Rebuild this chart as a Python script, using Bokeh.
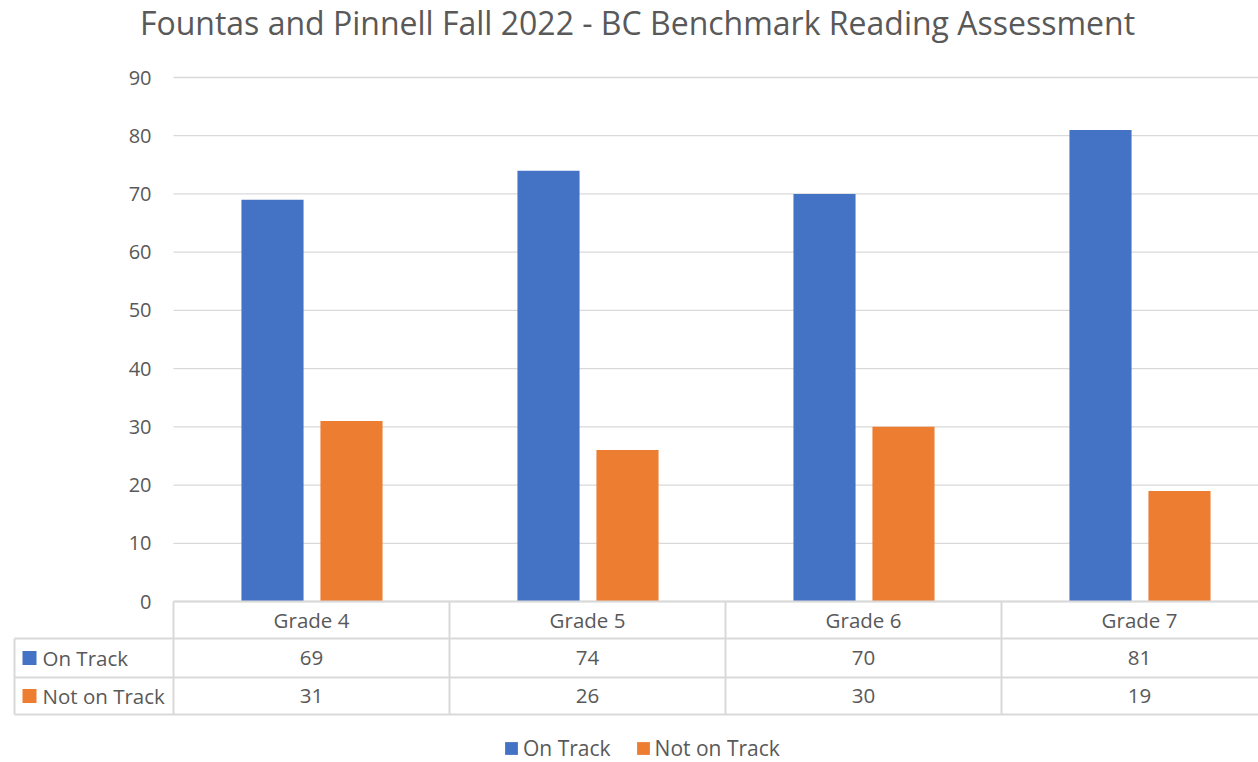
from bokeh.plotting import figure
from bokeh.models import Range1d, Legend, LegendItem, ColumnDataSource
from bokeh.embed import file_html
from bokeh.resources import INLINE
from bokeh.core.properties import value
from bokeh.transform import dodge

# ---------------- data ----------------
title_text = "Fountas and Pinnell Fall 2022 - BC Benchmark Reading Assessment"
grades = ["Grade 4", "Grade 5", "Grade 6", "Grade 7"]
on_track = [69, 74, 70, 81]
not_on_track = [31, 26, 30, 19]
series_names = ["On Track", "Not on Track"]
y_ticks = [0, 10, 20, 30, 40, 50, 60, 70, 80, 90]

# ---------------- style / layout ----------------
BLUE = "#4472C4"
ORANGE = "#ED7D31"
TXT = "#595959"
GRID = "#D9D9D9"
FONT = "Open Sans"

W, H = 1258, 762
ORIGIN_X, ORIGIN_Y = 173, 601     # pixel position of (0, 0) in the canvas
COL_PX = 276                      # one category column, px
PX_PER_Y = 524 / 90               # px per value unit


def xpx(px):
    return (px - ORIGIN_X) / COL_PX


def ypx(py):
    return (ORIGIN_Y - py) / PX_PER_Y


x_lo, x_hi = xpx(0), xpx(W)
y_lo, y_hi = ypx(H), ypx(0)

xs = [i + 0.5 for i in range(len(grades))]
src = ColumnDataSource(dict(x=xs, grade=grades, on=on_track, off=not_on_track,
                            on_s=[str(v) for v in on_track],
                            off_s=[str(v) for v in not_on_track]))

p = figure(width=W, height=H, output_backend="svg", toolbar_location=None,
           x_axis_type=None, y_axis_type=None,
           x_range=Range1d(x_lo, x_hi), y_range=Range1d(y_lo, y_hi),
           min_border=0, outline_line_color=None,
           background_fill_color="white", border_fill_color="white")

# ---- horizontal gridlines (value axis) ----
p.segment(x0=[0] * len(y_ticks), y0=y_ticks, x1=[x_hi] * len(y_ticks), y1=y_ticks,
          line_color=GRID, line_width=1.3)

# ---- bars ----
p.vbar(x=dodge("x", -0.1413, range=p.x_range), top="on", width=0.225,
       source=src, fill_color=BLUE, line_color=None)
p.vbar(x=dodge("x", 0.1449, range=p.x_range), top="off", width=0.225,
       source=src, fill_color=ORANGE, line_color=None)

txt_kw = dict(text_font=value(FONT), text_font_size="20px", text_color=TXT,
              text_baseline="middle")

# ---- value axis labels ----
p.text(x=[xpx(151)] * len(y_ticks), y=y_ticks, text=[str(v) for v in y_ticks],
       text_align="right", **txt_kw)

# ---- title ----
p.text(x=[xpx(637)], y=[ypx(22)], text=[title_text],
       text_font=value(FONT), text_font_size="32px", text_color=TXT,
       text_align="center", text_baseline="middle")

# ---- data table ----
R0, R1, R2, R3 = ypx(601), ypx(638), ypx(677), ypx(714)
TL = xpx(14)
n = len(grades)
p.segment(x0=[0, TL, TL, TL], y0=[R0, R1, R2, R3],
          x1=[x_hi] * 4, y1=[R0, R1, R2, R3],
          line_color=GRID, line_width=2)
p.segment(x0=list(range(n)), y0=[R0] * n, x1=list(range(n)), y1=[R3] * n,
          line_color=GRID, line_width=2)
p.segment(x0=[TL], y0=[R1], x1=[TL], y1=[R3], line_color=GRID, line_width=2)

tbl_kw = dict(txt_kw, text_font_size="20.5px")
p.text(x="x", y=(R0 + R1) / 2, text="grade", source=src, text_align="center", **tbl_kw)
p.text(x="x", y=(R1 + R2) / 2, text="on_s", source=src, text_align="center", **tbl_kw)
p.text(x="x", y=(R2 + R3) / 2, text="off_s", source=src, text_align="center", **tbl_kw)

sq_x, lab_x = xpx(29), xpx(42)
r_on = p.rect(x=[sq_x], y=[(R1 + R2) / 2], width=14, height=14,
              width_units="screen", height_units="screen",
              fill_color=BLUE, line_color=None)
r_off = p.rect(x=[sq_x], y=[(R2 + R3) / 2], width=14, height=14,
               width_units="screen", height_units="screen",
               fill_color=ORANGE, line_color=None)
p.text(x=[lab_x, lab_x], y=[(R1 + R2) / 2, (R2 + R3) / 2], text=series_names,
       text_align="left", **tbl_kw)

# ---- legend ----
legend = Legend(items=[LegendItem(label=series_names[0], renderers=[r_on]),
                       LegendItem(label=series_names[1], renderers=[r_off])],
                orientation="horizontal", location=(503, 0),
                glyph_width=16, glyph_height=16, label_standoff=4, spacing=24,
                padding=0, margin=0, border_line_color=None,
                background_fill_alpha=0,
                label_text_font=FONT, label_text_font_size="21px",
                label_text_color=TXT)
p.add_layout(legend)

open("out.html", "w").write(file_html(p, INLINE))
